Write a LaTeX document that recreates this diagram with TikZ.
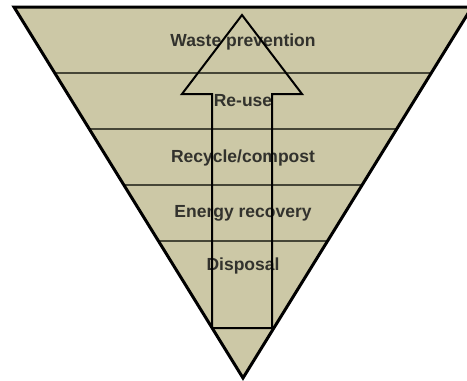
\documentclass[tikz,border=0pt]{standalone}
\usepackage{fontspec}
\setmainfont{Liberation Sans}
\usepackage{xcolor}
\definecolor{layerfill}{RGB}{204,200,166}
\definecolor{layerline}{RGB}{70,70,55}
\definecolor{labeltext}{RGB}{50,50,45}

\begin{document}
\begin{tikzpicture}[x=1pt,y=-1pt,
    layer/.style={font=\fontsize{17.5}{20}\selectfont\bfseries, text=labeltext},
    divider/.style={draw=layerline, line width=1.3pt}]
    \useasboundingbox (0,0) rectangle (467,381);
    \clip (0,0) rectangle (467,381);
    \coordinate (tl) at (14,7);
    \coordinate (tr) at (472,7);
    \coordinate (apex) at (243,378);
    \fill[layerfill] (tl) -- (tr) -- (apex) -- cycle;
    \begin{scope}
    \clip (tl) -- (tr) -- (apex) -- cycle;
    \draw[divider] (0,73) -- (467,73);
    \draw[divider] (0,129) -- (467,129);
    \draw[divider] (0,185) -- (467,185);
    \draw[divider] (0,241) -- (467,241);
    \end{scope}
    \draw[line width=3pt, line join=miter] (tl) -- (tr) -- (apex) -- cycle;
    \node[layer] (prevention) at (243,42) {Waste prevention};
    \node[layer] (reuse) at (243,101) {Re-use};
    \node[layer] (recycle) at (243,158) {Recycle/compost};
    \node[layer] (energy) at (243,213) {Energy recovery};
    \node[layer] (disposal) at (243,266) {Disposal};
    \draw[line width=2pt, line join=miter]
        (242,15) -- (302,94) -- (272,94) -- (272,328) -- (212,328)
        -- (212,94) -- (182,94) -- cycle;
\end{tikzpicture}
\end{document}
